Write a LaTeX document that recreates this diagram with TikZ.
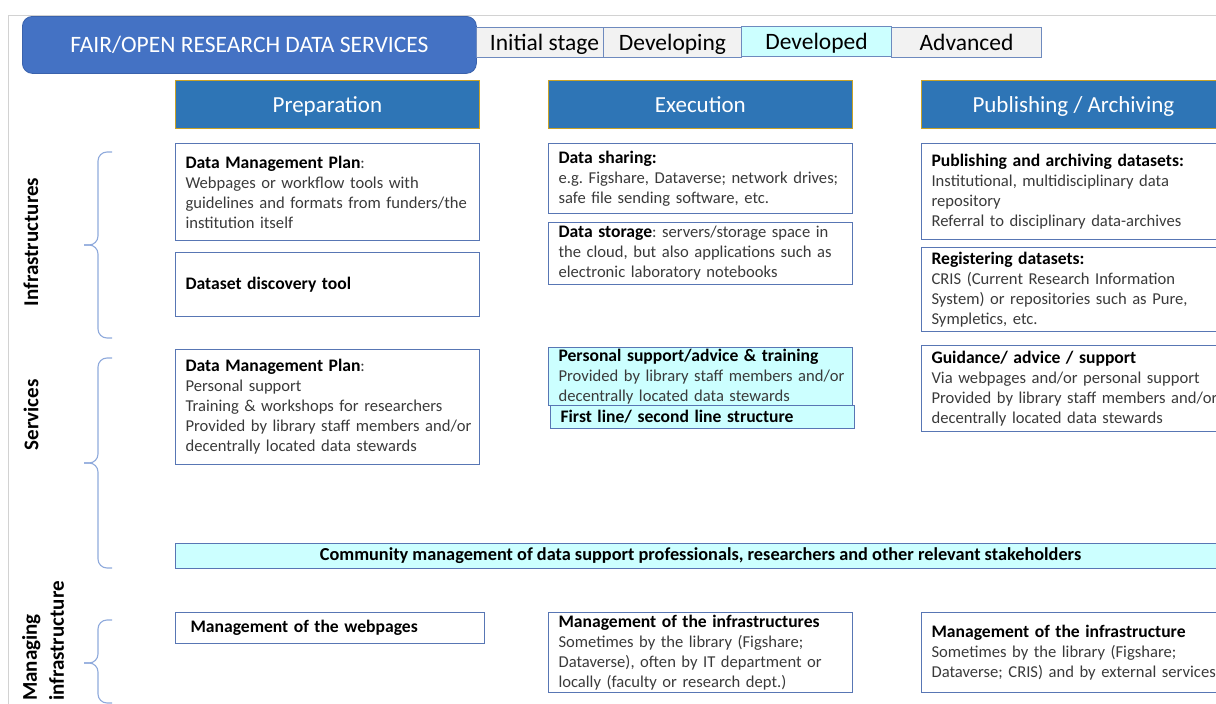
\documentclass[tikz,border=0pt]{standalone}
\usepackage{fontspec}
\setmainfont{Carlito}

\definecolor{titleblue}{HTML}{4472C4}
\definecolor{titleline}{HTML}{3A62AC}
\definecolor{headblue}{HTML}{2E75B6}
\definecolor{headgold}{HTML}{C9A227}
\definecolor{lineblue}{RGB}{88,118,180}
\definecolor{stageline}{RGB}{110,138,190}
\definecolor{lightcyan}{HTML}{CCFFFF}
\definecolor{stagegray}{HTML}{F2F2F2}
\definecolor{bracecol}{RGB}{143,170,220}
\definecolor{bodygray}{HTML}{3A3A3A}

\newcommand{\bodyfont}{\fontsize{16.6}{20}\selectfont}
\newcommand{\boxhead}[1]{{\fontsize{17.6}{20}\selectfont\bfseries\color{black}#1}}

\begin{document}
\frenchspacing
\begin{tikzpicture}[x=1pt,y=-1pt,
  cell/.style={draw=lineblue, line width=1.1pt, anchor=north west, align=left,
    inner xsep=10pt, inner ysep=0pt, text width=284pt, font=\bodyfont, text=bodygray},
  cyancell/.style={cell, fill=lightcyan},
  colhead/.style={draw=headgold, fill=headblue, line width=0.8pt, anchor=north west,
    minimum width=304pt, minimum height=48pt, inner sep=0pt, text height=17pt, text depth=1pt,
    text=white, font=\fontsize{23}{26}\selectfont},
  stagebox/.style={draw=stageline, fill=stagegray, line width=1pt, anchor=north west,
    minimum height=30pt, inner sep=0pt, text height=17pt, text depth=1pt,
    font=\fontsize{23.5}{25}\selectfont},
  rowlabel/.style={rotate=90, align=left, font=\fontsize{21}{27}\selectfont\bfseries},
  bracket/.style={draw=bracecol, line width=1.1pt, rounded corners=9pt}
]
\clip (0,0) rectangle (1216,704);
% marco gris
\draw[gray!35, line width=1pt] (8,704) -- (8,15) -- (1216,15);

% titulo y etapas
\node[fill=titleblue, draw=titleline, line width=0.8pt, rounded corners=10pt, anchor=north west,
  minimum width=454pt, minimum height=57pt, inner sep=0pt, text=white,
  font=\fontsize{23.5}{26}\selectfont] (title) at (22,16) {FAIR/OPEN RESEARCH DATA SERVICES};
\node[stagebox, minimum width=127pt] (initial) at (476,27) {\hspace*{9pt}Initial stage};
\node[stagebox, minimum width=138pt] (developing) at (603,27) {Developing};
\node[stagebox, minimum width=150pt, fill=lightcyan] (developed) at (741,26) {Developed};
\node[stagebox, minimum width=150pt] (advanced) at (891,27) {Advanced};

% columnas
\node[colhead] (prep) at (175,80) {Preparation};
\node[colhead] (exec) at (548,80) {Execution};
\node[colhead] (pubarch) at (921,80) {Publishing / Archiving};

% filas a la izquierda
\node[rowlabel] (infralabel) at (31,242) {Infrastructures};
\node[rowlabel] (servlabel) at (31,415) {Services};
\node[rowlabel] (mgmtlabel) at (43,641) {Managing\\infrastructure};
\draw[bracket] (112,152) -- (98,152) -- (98,245) -- (84,245);
\draw[bracket] (112,338) -- (98,338) -- (98,245) -- (84,245);
\draw[bracket] (112,358) -- (98,358) -- (98,463) -- (84,463);
\draw[bracket] (112,568) -- (98,568) -- (98,463) -- (84,463);
\draw[bracket] (112,620) -- (98,620) -- (98,663) -- (84,663);
\draw[bracket] (112,703) -- (98,703) -- (98,663) -- (84,663);

% preparation
\node[cell, minimum height=97pt] (dmpinfra) at (175,143)
  {\boxhead{Data Management Plan}:\\ Webpages or workflow tools with\\ \mbox{guidelines and formats from funders/the}\\ institution itself};
\node[cell, minimum height=64pt] (discovery) at (175,252) {\boxhead{Dataset discovery tool}};
\node[cell, minimum height=115pt] (dmpserv) at (175,349)
  {\boxhead{Data Management Plan}:\\ Personal support\\ Training \& workshops for researchers\\ \mbox{Provided by library staff members and/or}\\ decentrally located data stewards};
\node[cell, inner xsep=15pt, text width=279pt, minimum height=31pt] (webmgmt) at (175,612)
  {\boxhead{Management of the webpages}};

% execution
\node[cell, minimum height=70pt] (sharing) at (548,143)
  {\boxhead{Data sharing:}\\ \mbox{e.g. Figshare, Dataverse; network drives;}\\ safe file sending software, etc.};
\node[cell, minimum height=62pt] (storage) at (548,222)
  {\boxhead{Data storage}: servers/storage space in\\ the cloud, but also applications such as\\ electronic laboratory notebooks};
\node[cyancell, minimum height=58pt] (support) at (548,347)
  {\boxhead{Personal support/advice \& training}\\ \mbox{Provided by library staff members and/or}\\ decentrally located data stewards};
\node[cyancell, minimum height=23pt] (firstline) at (550,405)
  {\boxhead{First line/ second line structure}};
\node[cell, minimum height=80pt] (infraexec) at (548,612)
  {\boxhead{Management of the infrastructures}\\ Sometimes by the library (Figshare;\\ Dataverse), often by IT department or\\ locally (faculty or research dept.)};

% publishing / archiving
\node[cell, text width=300pt, minimum height=96pt] (publish) at (921,143)
  {\boxhead{Publishing and archiving datasets:}\\ Institutional, multidisciplinary data\\ repository\\ Referral to disciplinary data-archives};
\node[cell, text width=300pt, minimum height=84pt] (register) at (921,247)
  {\boxhead{Registering datasets:}\\ CRIS (Current Research Information\\ System) or repositories such as Pure,\\ Sympletics, etc.};
\node[cell, text width=300pt, minimum height=86pt] (guidance) at (921,345)
  {\boxhead{Guidance/ advice / support}\\ Via webpages and/or personal support\\ Provided by library staff members and/or\\ decentrally located data stewards};
\node[cell, text width=300pt, minimum height=80pt] (infrapub) at (921,612)
  {\boxhead{Management of the infrastructure}\\ Sometimes by the library (Figshare;\\ Dataverse; CRIS) and by external services};

% comunidad
\node[draw=lineblue, fill=lightcyan, line width=1.1pt, anchor=north west, minimum width=1050pt,
  minimum height=25pt, inner sep=0pt, font=\fontsize{18.3}{20}\selectfont\bfseries] (community) at (175,543)
  {Community management of data support professionals, researchers and other relevant stakeholders};
\end{tikzpicture}
\end{document}
